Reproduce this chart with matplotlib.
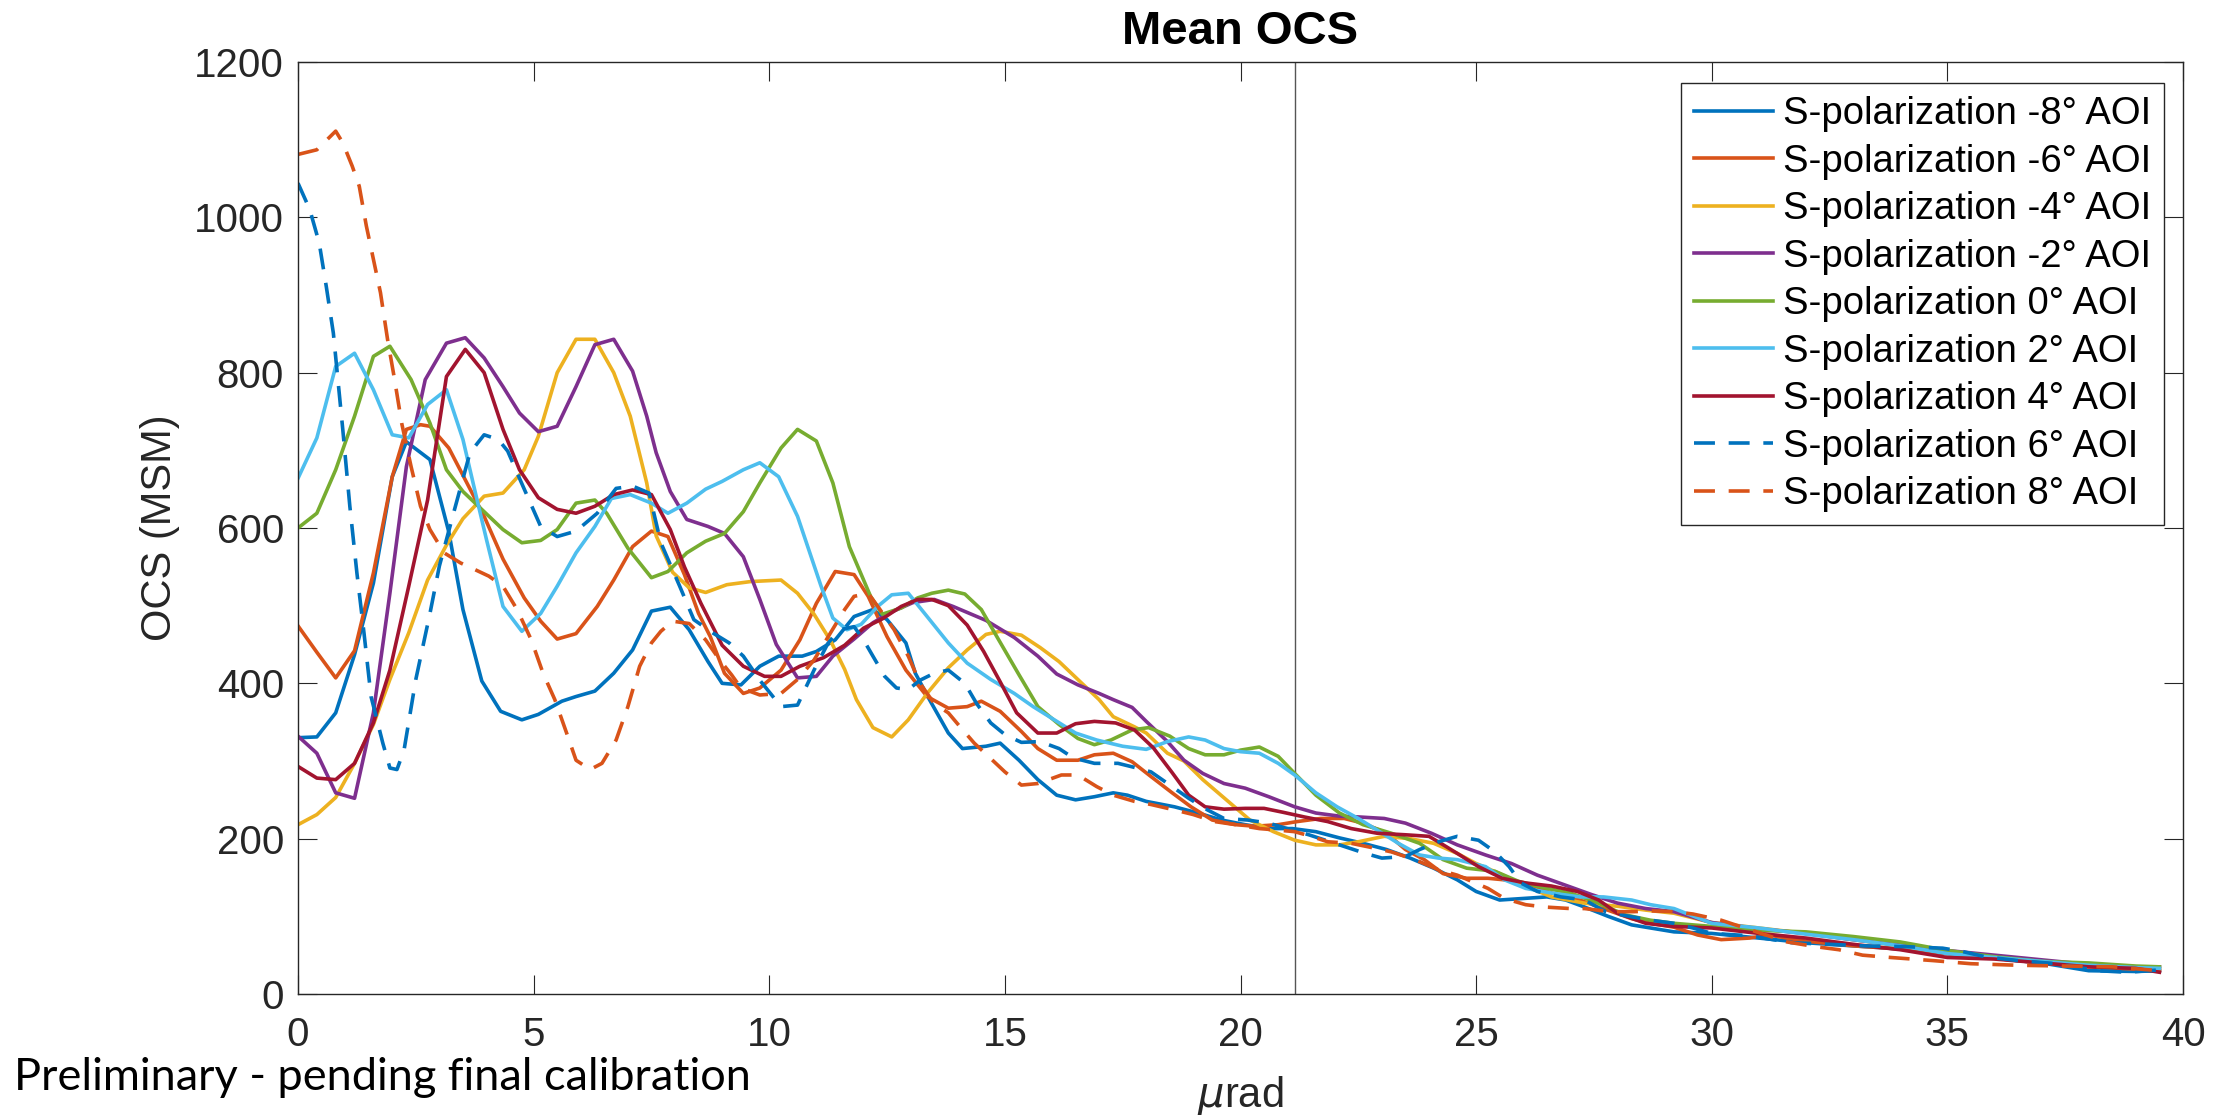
import matplotlib
matplotlib.use("Agg")
import matplotlib.pyplot as plt

plt.rcParams['font.family'] = ['Liberation Sans', 'DejaVu Sans']

# (urad, OCS) points, one list per AOI
s_m8 = [(0, 330), (0.4, 331), (0.8, 362), (1.2, 437), (1.6, 529), (2.0, 666), (2.3, 711), (2.8, 688),
        (3.2, 595), (3.5, 495), (3.9, 403), (4.3, 364), (4.75, 353), (5.1, 360), (5.6, 377), (5.9, 383),
        (6.3, 390), (6.7, 413), (7.1, 443), (7.5, 493), (7.9, 498), (8.3, 469), (8.7, 428), (9.0, 400),
        (9.4, 398), (9.8, 422), (10.2, 435), (10.7, 435), (11.0, 441), (11.4, 456), (11.8, 486), (12.2, 495),
        (12.5, 482), (12.9, 452), (13.1, 413), (13.4, 379), (13.8, 336), (14.1, 316), (14.6, 319), (14.9, 323),
        (15.3, 301), (15.7, 276), (16.1, 256), (16.5, 250), (16.9, 254), (17.3, 259), (17.6, 256), (18.0, 248),
        (18.6, 241), (19.1, 233), (19.6, 224), (20.1, 218), (20.6, 213), (21.1, 213), (21.6, 209), (22.1, 201),
        (22.6, 194), (23.1, 186), (23.6, 175), (24.1, 162), (24.6, 147), (25.0, 132), (25.5, 121), (26.0, 123),
        (26.5, 125), (26.9, 121), (27.3, 112), (27.8, 100), (28.3, 89), (28.7, 85), (29.2, 80), (30, 78),
        (31, 72), (32, 66), (33, 62), (34, 58), (35, 52), (36, 46), (37, 40), (38, 30), (39, 29), (39.5, 30)]

s_m6 = [(0, 474), (0.4, 440), (0.8, 407), (1.2, 442), (1.6, 542), (2.0, 666), (2.3, 727), (2.6, 733),
        (2.8, 731), (3.2, 703), (3.55, 662), (3.95, 615), (4.35, 560), (4.8, 510), (5.15, 480), (5.5, 457),
        (5.9, 464), (6.35, 499), (6.7, 533), (7.1, 576), (7.5, 596), (7.85, 589), (8.2, 540), (8.5, 490),
        (8.75, 460), (9.05, 413), (9.45, 387), (9.8, 394), (10.25, 417), (10.65, 456), (11.0, 503), (11.4, 544),
        (11.8, 540), (12.1, 512), (12.5, 460), (12.9, 417), (13.35, 383), (13.8, 368), (14.2, 370), (14.5, 377),
        (14.9, 364), (15.35, 338), (15.7, 316), (16.1, 301), (16.55, 301), (16.9, 308), (17.3, 310), (17.7, 299),
        (18.1, 280), (18.55, 259), (18.95, 241), (19.4, 224), (19.9, 218), (20.3, 216), (20.8, 218), (21.2, 222),
        (21.7, 226), (22.2, 226), (22.6, 220), (23.1, 207), (23.5, 186), (23.9, 173), (24.3, 155), (24.8, 149),
        (25.25, 149), (25.6, 147), (26.0, 143), (26.6, 130), (27.2, 121), (27.7, 110), (28.3, 97), (28.7, 91),
        (29.2, 86), (29.7, 76), (30.2, 70), (30.8, 72), (31.2, 76), (32, 68), (33, 62), (34, 58), (35, 52),
        (36, 46), (37, 40), (38, 35), (39, 32), (39.5, 30)]

s_m4 = [(0, 218), (0.4, 231), (0.8, 253), (1.2, 297), (1.6, 347), (1.95, 405), (2.35, 465), (2.75, 533),
        (3.15, 578), (3.5, 612), (3.95, 641), (4.35, 645), (4.8, 675), (5.1, 718), (5.5, 800), (5.9, 843),
        (6.3, 843), (6.7, 800), (7.05, 744), (7.4, 658), (7.6, 590), (7.95, 543), (8.3, 523), (8.65, 517),
        (9.1, 527), (9.6, 531), (10.25, 533), (10.6, 516), (10.95, 489), (11.3, 455), (11.6, 418), (11.85, 379),
        (12.2, 343), (12.6, 331), (12.95, 353), (13.35, 387), (13.8, 420), (14.2, 443), (14.6, 463), (14.9, 467),
        (15.35, 462), (15.75, 446), (16.15, 428), (16.6, 402), (17.0, 379), (17.3, 357), (17.75, 344), (18.0, 336),
        (18.45, 310), (18.8, 300), (19.2, 276), (19.7, 250), (20.2, 224), (20.7, 209), (21.15, 198), (21.6, 192),
        (22.1, 192), (22.5, 196), (23.05, 203), (23.6, 200), (24.1, 194), (24.6, 181), (25.0, 168), (25.5, 155),
        (25.9, 143), (26.6, 125), (27.3, 117), (28.0, 113), (28.6, 108), (29.2, 104), (30, 92), (31, 85),
        (32, 78), (33, 70), (34, 62), (35, 53), (36, 47), (37, 42), (38, 38), (39, 34), (39.5, 33)]

s_m2 = [(0, 332), (0.4, 310), (0.8, 259), (1.2, 252), (1.6, 362), (1.95, 516), (2.3, 679), (2.7, 791),
        (3.15, 838), (3.55, 845), (3.95, 819), (4.35, 782), (4.7, 748), (5.1, 724), (5.5, 731), (5.9, 782),
        (6.3, 836), (6.7, 843), (7.1, 802), (7.4, 744), (7.6, 697), (7.9, 647), (8.25, 611), (8.7, 602),
        (9.05, 593), (9.45, 563), (9.8, 508), (10.15, 450), (10.6, 407), (11.0, 409), (11.35, 435), (11.8, 457),
        (12.2, 478), (12.6, 492), (13.05, 504), (13.5, 508), (13.9, 499), (14.6, 481), (15.2, 459), (15.7, 435),
        (16.1, 412), (16.55, 398), (17.0, 387), (17.3, 379), (17.7, 369), (18.0, 351), (18.45, 325), (18.8, 301),
        (19.2, 284), (19.65, 271), (20.1, 265), (20.6, 254), (21.15, 241), (21.6, 233), (22.1, 229), (22.5, 228),
        (23.05, 226), (23.5, 220), (24.05, 207), (24.6, 192), (25.2, 179), (25.75, 168), (26.3, 153), (26.9, 140),
        (27.45, 128), (28.0, 117), (28.6, 110), (29.2, 106), (30, 92), (31, 84), (32, 78), (33, 70), (34, 63),
        (35, 56), (36, 50), (37, 44), (38, 38), (39, 35), (39.5, 35)]

s_0 = [(0, 600), (0.4, 619), (0.8, 675), (1.2, 744), (1.6, 821), (1.95, 834), (2.4, 791), (2.8, 735),
       (3.15, 675), (3.5, 647), (3.95, 621), (4.35, 598), (4.75, 581), (5.15, 584), (5.5, 598), (5.9, 632),
       (6.3, 636), (6.55, 619), (7.0, 574), (7.5, 536), (7.85, 544), (8.25, 568), (8.65, 583), (9.05, 593),
       (9.45, 621), (9.8, 658), (10.25, 703), (10.6, 727), (11.0, 712), (11.35, 658), (11.7, 576), (12.15, 512),
       (12.4, 489), (12.8, 497), (13.15, 510), (13.45, 516), (13.8, 520), (14.15, 515), (14.5, 495), (14.85, 458),
       (15.3, 411), (15.7, 370), (16.15, 347), (16.55, 329), (16.9, 321), (17.25, 327), (17.7, 340), (18.05, 343),
       (18.5, 332), (18.9, 316), (19.25, 308), (19.65, 308), (20.0, 314), (20.4, 318), (20.8, 306), (21.15, 284),
       (21.6, 256), (22.1, 233), (22.6, 218), (23.2, 207), (23.8, 194), (24.3, 173), (24.8, 162), (25.4, 158),
       (25.9, 145), (26.5, 136), (27.0, 130), (27.6, 117), (28.15, 102), (28.7, 95), (29.2, 91), (30, 87),
       (31, 82), (32, 80), (33, 74), (34, 67), (35, 56), (36, 48), (37, 42), (38, 40), (39, 36), (39.5, 35)]

s_p2 = [(0, 664), (0.4, 716), (0.8, 808), (1.2, 825), (1.6, 778), (2.0, 720), (2.35, 716), (2.75, 759),
        (3.15, 778), (3.5, 714), (3.75, 649), (4.0, 585), (4.35, 499), (4.75, 467), (5.15, 490), (5.5, 525),
        (5.9, 568), (6.3, 602), (6.65, 638), (7.05, 643), (7.5, 632), (7.85, 619), (8.25, 632), (8.65, 650),
        (9.0, 660), (9.45, 675), (9.8, 684), (10.2, 666), (10.6, 615), (10.9, 561), (11.1, 525), (11.35, 484),
        (11.65, 469), (11.95, 476), (12.3, 499), (12.6, 514), (12.95, 516), (13.35, 486), (13.8, 452), (14.2, 426),
        (14.7, 405), (15.2, 387), (15.6, 370), (16.05, 353), (16.5, 336), (16.95, 327), (17.5, 319), (18.0, 315),
        (18.45, 325), (18.9, 331), (19.25, 327), (19.65, 316), (20.0, 312), (20.4, 310), (20.8, 297), (21.15, 282),
        (21.6, 259), (22.05, 241), (22.5, 226), (22.9, 211), (23.35, 194), (23.8, 179), (24.2, 175), (24.6, 173),
        (25.2, 164), (25.6, 147), (26.05, 136), (26.6, 130), (27.2, 125), (27.7, 125), (28.3, 121), (28.7, 115),
        (29.2, 110), (30, 91), (31, 85), (32, 77), (33, 70), (34, 62), (35, 52), (36, 47), (37, 42), (38, 37),
        (39, 34), (39.5, 33)]

s_p4 = [(0, 293), (0.4, 278), (0.8, 276), (1.2, 297), (1.6, 349), (1.95, 417), (2.35, 525), (2.75, 636),
        (3.15, 795), (3.55, 830), (3.95, 800), (4.35, 727), (4.7, 675), (5.1, 639), (5.5, 624), (5.9, 619),
        (6.3, 628), (6.7, 643), (7.1, 649), (7.5, 643), (7.9, 598), (8.2, 550), (8.55, 503), (9.0, 449),
        (9.45, 422), (9.9, 409), (10.25, 409), (10.65, 422), (11.15, 433), (11.6, 449), (12.0, 471), (12.4, 483),
        (12.8, 499), (13.15, 508), (13.45, 508), (13.8, 500), (14.2, 475), (14.55, 441), (14.9, 402), (15.25, 362),
        (15.7, 336), (16.1, 336), (16.5, 348), (16.9, 351), (17.35, 349), (17.75, 340), (18.15, 317), (18.55, 285),
        (18.9, 256), (19.25, 241), (19.65, 238), (20.1, 239), (20.5, 239), (20.9, 234), (21.35, 228), (21.85, 222),
        (22.35, 213), (22.9, 207), (23.5, 205), (24.0, 203), (24.25, 194), (24.6, 181), (25.05, 164), (25.55, 149),
        (26.05, 143), (26.6, 139), (27.15, 132), (27.6, 121), (28.0, 104), (28.6, 91), (29.2, 87), (30, 85),
        (31, 78), (32, 72), (33, 64), (34, 57), (35, 47), (36, 45), (37, 40), (38, 35), (39, 33), (39.5, 28)]

s_p6 = [(0, 1044), (0.25, 1010), (0.45, 967), (0.6, 911), (0.75, 851), (0.95, 727), (1.1, 628), (1.25, 542),
        (1.4, 465), (1.55, 383), (1.8, 323), (1.95, 291), (2.1, 289), (2.25, 314), (2.5, 405), (2.8, 490),
        (3.0, 551), (3.3, 619), (3.65, 697), (3.95, 720), (4.25, 714), (4.45, 699), (4.7, 664), (5.15, 602),
        (5.5, 589), (5.9, 596), (6.35, 619), (6.75, 651), (7.1, 654), (7.45, 645), (7.7, 581), (8.1, 525),
        (8.4, 482), (8.8, 465), (9.15, 452), (9.45, 435), (9.8, 404), (10.25, 370), (10.6, 372), (10.95, 417),
        (11.25, 452), (11.5, 469), (11.8, 473), (12.0, 456), (12.2, 435), (12.45, 409), (12.7, 394), (12.95, 392),
        (13.2, 404), (13.5, 413), (13.8, 417), (14.15, 400), (14.4, 374), (14.7, 349), (15.0, 334), (15.35, 324),
        (15.75, 325), (16.15, 316), (16.45, 304), (16.9, 297), (17.4, 297), (17.8, 291), (18.1, 286), (18.55, 267),
        (18.9, 252), (19.3, 237), (19.65, 226), (20.15, 224), (20.6, 220), (21.1, 211), (21.45, 205), (21.9, 196),
        (22.65, 181), (23.0, 175), (23.5, 177), (23.8, 186), (24.2, 196), (24.6, 203), (25.05, 198), (25.4, 183),
        (25.7, 164), (25.95, 143), (26.3, 132), (26.8, 125), (27.3, 121), (27.75, 106), (28.25, 100), (28.7, 95),
        (29.2, 91), (29.6, 85), (30.0, 78), (30.8, 75), (31.7, 66), (32.5, 64), (33.2, 62), (34.1, 61),
        (34.9, 59), (35.3, 55), (35.8, 48), (36.5, 43), (37.3, 39), (38.2, 30), (38.8, 28), (39.5, 31)]

s_p8 = [(0, 1081), (0.4, 1087), (0.8, 1111), (0.95, 1096), (1.15, 1066), (1.3, 1040), (1.45, 989), (1.6, 946),
        (1.75, 903), (1.9, 843), (2.05, 791), (2.2, 735), (2.4, 679), (2.6, 628), (2.8, 598), (3.1, 568),
        (3.45, 555), (3.7, 548), (4.05, 538), (4.35, 525), (4.65, 495), (4.95, 456), (5.2, 413), (5.45, 379),
        (5.7, 336), (5.9, 301), (6.2, 289), (6.45, 297), (6.75, 327), (7.0, 370), (7.25, 422), (7.5, 452),
        (7.7, 467), (7.95, 480), (8.3, 477), (8.65, 456), (8.95, 430), (9.2, 411), (9.4, 394), (9.8, 385),
        (10.25, 387), (10.6, 405), (10.95, 430), (11.3, 465), (11.6, 495), (11.8, 512), (12.1, 516), (12.35, 495),
        (12.65, 469), (12.95, 435), (13.2, 400), (13.5, 374), (13.8, 362), (14.05, 344), (14.35, 323), (14.65, 306),
        (15.0, 286), (15.35, 269), (15.7, 271), (16.2, 282), (16.55, 282), (16.95, 267), (17.3, 256), (17.75, 248),
        (18.1, 244), (18.6, 237), (19.0, 231), (19.45, 222), (19.9, 218), (20.4, 213), (20.8, 211), (21.15, 209),
        (21.5, 203), (21.85, 196), (22.35, 194), (22.75, 189), (23.2, 183), (23.7, 173), (24.2, 160), (24.6, 153),
        (25.25, 136), (25.6, 123), (26.05, 115), (26.45, 112), (27.0, 110), (27.3, 110), (27.85, 106), (28.35, 106),
        (28.7, 107), (29.2, 106), (29.6, 103), (30.2, 95), (30.7, 85), (31.2, 75), (31.6, 67), (32.2, 61),
        (32.7, 57), (33.2, 50), (33.8, 47), (34.7, 43), (35.5, 39), (36.5, 37), (37.5, 36), (38.5, 35), (39.5, 30)]

series = [s_m8, s_m6, s_m4, s_m2, s_0, s_p2, s_p4, s_p6, s_p8]
labels = ['S-polarization -8° AOI', 'S-polarization -6° AOI', 'S-polarization -4° AOI',
          'S-polarization -2° AOI', 'S-polarization 0° AOI', 'S-polarization 2° AOI',
          'S-polarization 4° AOI', 'S-polarization 6° AOI', 'S-polarization 8° AOI']
colors = ['#0072BD', '#D95319', '#EDB120', '#7E2F8E', '#77AC30', '#4DBEEE', '#A2142F',
          '#0072BD', '#D95319']
dashed = [False] * 7 + [True, True]
cutoff = 21.15  # vertical marker line

W, H = 2223, 1115
fig = plt.figure(figsize=(W / 100, H / 100), dpi=100)
ax = fig.add_axes([298 / W, 1 - 994 / H, 1885 / W, 932 / H])

for pts, lab, c, d in zip(series, labels, colors, dashed):
    xs = [p[0] for p in pts]
    ys = [p[1] for p in pts]
    if d:
        ax.plot(xs, ys, color=c, lw=2.6, label=lab, dashes=(5.8, 3.8))
    else:
        ax.plot(xs, ys, color=c, lw=2.6, label=lab)

ax.axvline(cutoff, color='#555555', lw=1.0, zorder=0)

ax.set_xlim(0, 40)
ax.set_ylim(0, 1200)
ax.set_xticks(range(0, 41, 5))
ax.set_yticks(range(0, 1201, 200))
ax.tick_params(direction='in', length=13.5, width=0.8, top=True, right=True,
               labelsize=29, colors='#262626')
ax.tick_params(axis='x', pad=16)
ax.tick_params(axis='y', pad=10)
for sp in ax.spines.values():
    sp.set_color('#262626')
    sp.set_linewidth(1.0)

ax.set_title('Mean OCS', fontsize=34, fontweight='bold', pad=13)
ax.set_ylabel('OCS (MSM)', fontsize=30, color='#262626', labelpad=10)
ax.set_xlabel(r'$\mu$rad', fontsize=30, color='#262626', labelpad=14)

leg = ax.legend(loc='upper right', bbox_to_anchor=(0.99, 0.9775), borderaxespad=0,
                fontsize=27.5, handlelength=2.07, handletextpad=0.25, labelspacing=0.3,
                borderpad=0.35, fancybox=False, framealpha=1)
leg.get_frame().set_edgecolor('#262626')
leg.get_frame().set_linewidth(1.0)

fig.text(14 / W, 1 - 1077 / H, 'Preliminary - pending final calibration',
         fontsize=32.5, family=['Lato', 'DejaVu Sans'], va='center', ha='left')

fig.savefig('out.png', dpi=100)
